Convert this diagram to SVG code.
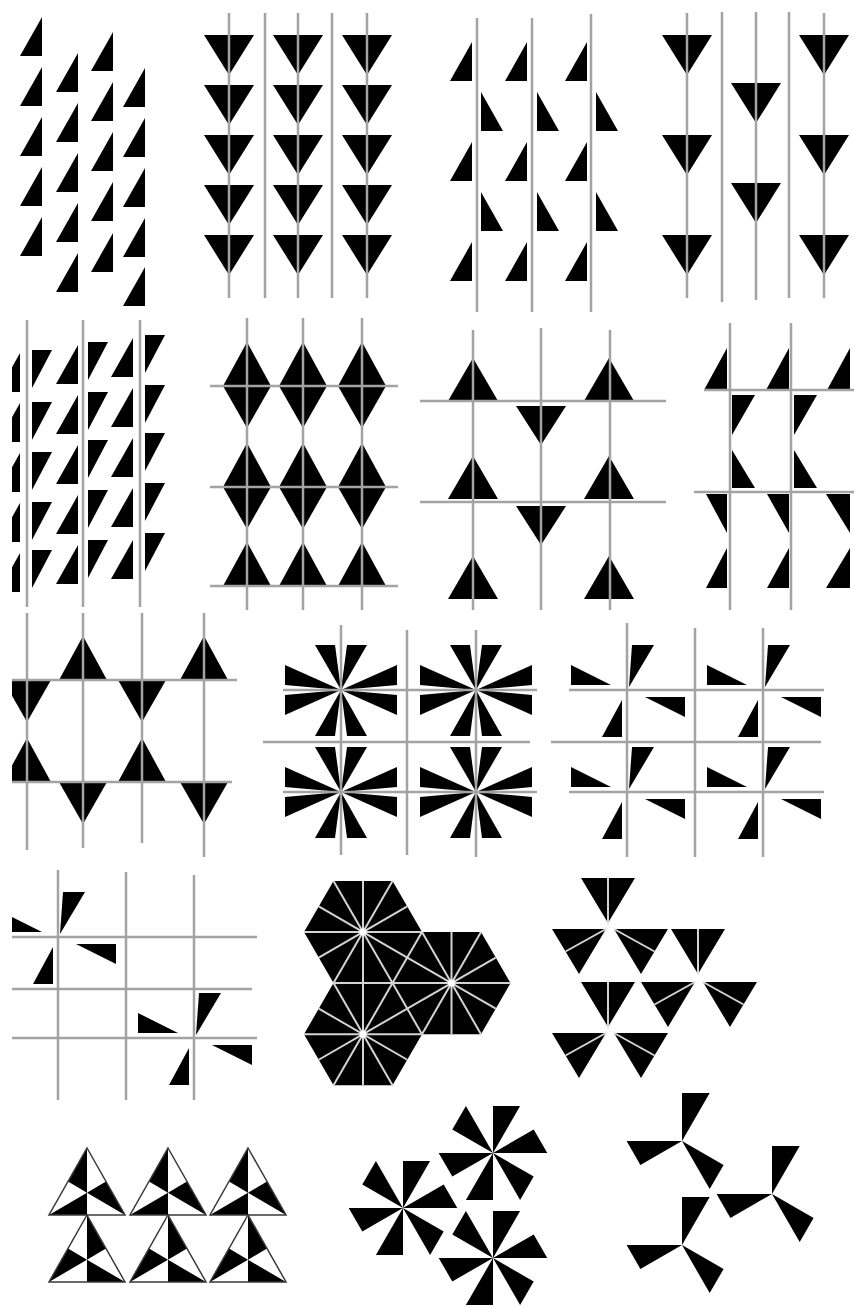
<svg xmlns="http://www.w3.org/2000/svg" xmlns:xlink="http://www.w3.org/1999/xlink" width="854" height="1307" viewBox="0 0 854 1307">
<style>
.ln{stroke:#a3a3a3;stroke-width:2.5;fill:none}
.hl{stroke:#d4d4d4;stroke-width:2;fill:none}
.ol{fill:none;stroke:#3a3a3a;stroke-width:1.5;stroke-linejoin:miter}
polygon{fill:#000}
.ol{fill:none}
</style>
<defs>
<polygon id="t1" points="0,0 0,39 -22,39"/>
<polygon id="t2" points="0,0 0,39 22,39"/>
<polygon id="t3" points="0,0 20,0 0,38"/>
<polygon id="dn" points="-25,0 25,0 0,40"/>
<polygon id="up" points="0,0 24,44 -24,44"/>
<polygon id="dn2" points="-24,0 24,0 0,42"/>
<polygon id="up7" points="0,0 25,43 -25,43"/>
<polygon id="dn7" points="-25,0 25,0 0,39"/>
<polygon id="dt" points="-27,0 27,0 0,45"/>
<g id="star">
<polygon points="-26,-45 -6,-45 0,0"/>
<polygon points="6,-45 26,-45 0,0"/>
<polygon points="-56,-25 -56,-5 0,0"/>
<polygon points="56,-25 56,-5 0,0"/>
<polygon points="-56,5 -56,25 0,0"/>
<polygon points="56,5 56,25 0,0"/>
<polygon points="-26,46 -6,46 0,0"/>
<polygon points="6,46 26,46 0,0"/>
</g>
<g id="pw4">
<polygon points="5,-45 27,-45 2,-3"/>
<polygon points="-56,-25 -56,-5 -16,-5"/>
<polygon points="18,7 58,7 58,27"/>
<polygon points="-5,10 -5,47 -25,47"/>
</g>
<g id="pw6">
<polygon points="0,0 40.7,-23.5 54.3,0"/>
<polygon points="0,0 0,-47 27.1,-47"/>
<polygon points="0,0 -40.7,-23.5 -27.1,-47"/>
<polygon points="0,0 -40.7,23.5 -54.3,0"/>
<polygon points="0,0 0,47 -27.1,47"/>
<polygon points="0,0 40.7,23.5 27.1,47"/>
</g>
<g id="pw3">
<polygon points="0,0 0,-48 27.7,-48"/>
<polygon points="0,0 -41.6,24 -55.4,0"/>
<polygon points="0,0 41.6,24 27.7,48"/>
</g>
<g id="spk">
<line x1="-59" y1="0" x2="59" y2="0"/>
<line x1="-29.5" y1="51.1" x2="29.5" y2="-51.1"/>
<line x1="-29.5" y1="-51.1" x2="29.5" y2="51.1"/>
<line x1="0" y1="-51.1" x2="0" y2="51.1"/>
<line x1="-44.25" y1="25.55" x2="44.25" y2="-25.55"/>
<line x1="-44.25" y1="-25.55" x2="44.25" y2="25.55"/>
</g>
<g id="tA">
<polygon points="0,0 0,44.7 -19,33.5"/>
<polygon points="19,33.5 0,44.7 38,67"/>
<polygon points="0,67 0,44.7 -38,67"/>
<polygon class="ol" points="0,0 38,67 -38,67"/>
</g>
<g id="tB">
<polygon points="0,0 0,44.7 19,33.5"/>
<polygon points="-19,33.5 0,44.7 -38,67"/>
<polygon points="0,67 0,44.7 38,67"/>
<polygon class="ol" points="0,0 38,67 -38,67"/>
</g>
<clipPath id="cl"><rect x="12" y="0" width="842" height="1307"/></clipPath>
<clipPath id="cr"><rect x="0" y="0" width="852" height="1307"/></clipPath>
</defs>
<rect width="854" height="1307" fill="#fff"/>

<g id="p1">
<use href="#t1" x="42" y="17"/><use href="#t1" x="42" y="67"/><use href="#t1" x="42" y="117"/><use href="#t1" x="42" y="167"/><use href="#t1" x="42" y="217"/>
<use href="#t1" x="78" y="53"/><use href="#t1" x="78" y="103"/><use href="#t1" x="78" y="153"/><use href="#t1" x="78" y="203"/><use href="#t1" x="78" y="253"/>
<use href="#t1" x="113" y="32"/><use href="#t1" x="113" y="82"/><use href="#t1" x="113" y="132"/><use href="#t1" x="113" y="182"/><use href="#t1" x="113" y="233"/>
<use href="#t1" x="145" y="68"/><use href="#t1" x="145" y="118"/><use href="#t1" x="145" y="168"/><use href="#t1" x="145" y="218"/><use href="#t1" x="145" y="267"/>
</g>

<g id="p2">
<use href="#dn" x="229" y="35"/><use href="#dn" x="229" y="85"/><use href="#dn" x="229" y="135"/><use href="#dn" x="229" y="185"/><use href="#dn" x="229" y="235"/>
<use href="#dn" x="298" y="35"/><use href="#dn" x="298" y="85"/><use href="#dn" x="298" y="135"/><use href="#dn" x="298" y="185"/><use href="#dn" x="298" y="235"/>
<use href="#dn" x="367" y="35"/><use href="#dn" x="367" y="85"/><use href="#dn" x="367" y="135"/><use href="#dn" x="367" y="185"/><use href="#dn" x="367" y="235"/>
<g class="ln"><line x1="229" y1="13" x2="229" y2="298"/><line x1="265" y1="13" x2="265" y2="298"/><line x1="298" y1="13" x2="298" y2="298"/><line x1="332" y1="13" x2="332" y2="298"/><line x1="367" y1="13" x2="367" y2="298"/></g>
</g>

<g id="p3">
<use href="#t1" x="472" y="42"/><use href="#t1" x="472" y="142"/><use href="#t1" x="472" y="242"/>
<use href="#t1" x="527" y="42"/><use href="#t1" x="527" y="142"/><use href="#t1" x="527" y="242"/>
<use href="#t1" x="587" y="42"/><use href="#t1" x="587" y="142"/><use href="#t1" x="587" y="242"/>
<use href="#t2" x="481" y="92"/><use href="#t2" x="481" y="192"/>
<use href="#t2" x="537" y="92"/><use href="#t2" x="537" y="192"/>
<use href="#t2" x="596" y="92"/><use href="#t2" x="596" y="192"/>
<g class="ln"><line x1="477" y1="18" x2="477" y2="312"/><line x1="532" y1="18" x2="532" y2="312"/><line x1="591" y1="14" x2="591" y2="312"/></g>
</g>

<g id="p4" clip-path="url(#cr)">
<use href="#dn" x="687" y="35"/><use href="#dn" x="687" y="135"/><use href="#dn" x="687" y="235"/>
<use href="#dn" x="756" y="83"/><use href="#dn" x="756" y="183"/>
<use href="#dn" x="824" y="35"/><use href="#dn" x="824" y="135"/><use href="#dn" x="824" y="235"/>
<g class="ln"><line x1="687" y1="13" x2="687" y2="298"/><line x1="722" y1="12" x2="722" y2="302"/><line x1="756" y1="12" x2="756" y2="300"/><line x1="789" y1="12" x2="789" y2="298"/><line x1="824" y1="13" x2="824" y2="298"/></g>
</g>

<g id="p5" clip-path="url(#cl)">
<use href="#t1" x="20" y="353"/><use href="#t1" x="20" y="403"/><use href="#t1" x="20" y="453"/><use href="#t1" x="20" y="503"/><use href="#t1" x="20" y="553"/>
<use href="#t3" x="32" y="350"/><use href="#t3" x="32" y="402"/><use href="#t3" x="32" y="452"/><use href="#t3" x="32" y="502"/><use href="#t3" x="32" y="550"/>
<use href="#t1" x="78" y="345"/><use href="#t1" x="78" y="395"/><use href="#t1" x="78" y="445"/><use href="#t1" x="78" y="495"/><use href="#t1" x="78" y="545"/>
<use href="#t3" x="88" y="342"/><use href="#t3" x="88" y="392"/><use href="#t3" x="88" y="440"/><use href="#t3" x="88" y="490"/><use href="#t3" x="88" y="540"/>
<use href="#t1" x="133" y="338"/><use href="#t1" x="133" y="388"/><use href="#t1" x="133" y="438"/><use href="#t1" x="133" y="488"/><use href="#t1" x="133" y="540"/>
<use href="#t3" x="145" y="335"/><use href="#t3" x="145" y="385"/><use href="#t3" x="145" y="433"/><use href="#t3" x="145" y="483"/><use href="#t3" x="145" y="533"/>
<g class="ln"><line x1="27" y1="320" x2="27" y2="607"/><line x1="83" y1="320" x2="83" y2="607"/><line x1="140" y1="320" x2="140" y2="607"/></g>
</g>

<g id="p6">
<use href="#up" x="247" y="342"/><use href="#up" x="303" y="342"/><use href="#up" x="362" y="342"/>
<use href="#dn2" x="247" y="386"/><use href="#dn2" x="303" y="386"/><use href="#dn2" x="362" y="386"/>
<use href="#up" x="247" y="443"/><use href="#up" x="303" y="443"/><use href="#up" x="362" y="443"/>
<use href="#dn2" x="247" y="487"/><use href="#dn2" x="303" y="487"/><use href="#dn2" x="362" y="487"/>
<use href="#up" x="247" y="542"/><use href="#up" x="303" y="542"/><use href="#up" x="362" y="542"/>
<g class="ln"><line x1="247" y1="318" x2="247" y2="610"/><line x1="303" y1="318" x2="303" y2="610"/><line x1="362" y1="318" x2="362" y2="610"/>
<line x1="210" y1="386" x2="398" y2="386"/><line x1="210" y1="487" x2="398" y2="487"/><line x1="210" y1="586" x2="398" y2="586"/></g>
</g>

<g id="p7">
<use href="#up7" x="473" y="358"/><use href="#up7" x="609" y="358"/>
<use href="#up7" x="473" y="456"/><use href="#up7" x="609" y="456"/>
<use href="#up7" x="473" y="556"/><use href="#up7" x="609" y="556"/>
<use href="#dn7" x="541" y="406"/><use href="#dn7" x="541" y="506"/>
<g class="ln"><line x1="473" y1="330" x2="473" y2="610"/><line x1="541" y1="328" x2="541" y2="610"/><line x1="610" y1="330" x2="610" y2="610"/>
<line x1="420" y1="401" x2="666" y2="401"/><line x1="420" y1="502" x2="666" y2="502"/></g>
</g>

<g id="p8">
<polygon points="727,348 727,390 704,390"/><polygon points="789,348 789,390 766,390"/><polygon points="850,348 850,390 827,390"/>
<polygon points="732,395 755,395 732,435"/><polygon points="794,395 817,395 794,435"/>
<polygon points="732,450 732,488 755,488"/><polygon points="794,450 794,488 817,488"/>
<polygon points="706,494 727,494 727,533"/><polygon points="767,494 789,494 789,533"/><polygon points="826,494 850,494 850,533"/>
<polygon points="727,548 727,588 706,588"/><polygon points="789,548 789,588 767,588"/><polygon points="850,548 850,588 826,588"/>
<g class="ln"><line x1="730" y1="323" x2="730" y2="610"/><line x1="791" y1="323" x2="791" y2="610"/>
<line x1="704" y1="390" x2="854" y2="390"/><line x1="694" y1="492" x2="854" y2="492"/></g>
</g>

<g id="p9" clip-path="url(#cl)">
<use href="#up" x="83" y="636"/><use href="#up" x="204" y="636"/>
<use href="#up" x="27" y="738"/><use href="#up" x="142" y="738"/>
<use href="#dn2" x="27" y="680"/><use href="#dn2" x="142" y="680"/>
<use href="#dn2" x="83" y="782"/><use href="#dn2" x="204" y="782"/>
<g class="ln"><line x1="27" y1="613" x2="27" y2="850"/><line x1="83" y1="613" x2="83" y2="848"/><line x1="142" y1="613" x2="142" y2="843"/><line x1="204" y1="613" x2="204" y2="857"/>
<line x1="12" y1="680" x2="237" y2="680"/><line x1="12" y1="782" x2="232" y2="782"/></g>
</g>

<g id="p10">
<use href="#star" x="341" y="690"/><use href="#star" x="476" y="690"/>
<use href="#star" x="341" y="792"/><use href="#star" x="476" y="792"/>
<g class="ln"><line x1="341" y1="625" x2="341" y2="855"/><line x1="407" y1="630" x2="407" y2="855"/><line x1="476" y1="630" x2="476" y2="857"/>
<line x1="283" y1="690" x2="537" y2="690"/><line x1="263" y1="742" x2="530" y2="742"/><line x1="283" y1="792" x2="537" y2="792"/></g>
</g>

<g id="p11">
<use href="#pw4" x="627" y="690"/><use href="#pw4" x="763" y="690"/>
<use href="#pw4" x="627" y="792"/><use href="#pw4" x="763" y="792"/>
<g class="ln"><line x1="627" y1="623" x2="627" y2="857"/><line x1="695" y1="628" x2="695" y2="857"/><line x1="763" y1="628" x2="763" y2="857"/>
<line x1="569" y1="690" x2="824" y2="690"/><line x1="551" y1="742" x2="821" y2="742"/><line x1="569" y1="792" x2="824" y2="792"/></g>
</g>

<g id="p12" clip-path="url(#cl)">
<use href="#pw4" x="58" y="937"/><use href="#pw4" x="194" y="1038"/>
<g class="ln"><line x1="58" y1="870" x2="58" y2="1100"/><line x1="126" y1="872" x2="126" y2="1100"/><line x1="194" y1="875" x2="194" y2="1100"/>
<line x1="12" y1="937" x2="257" y2="937"/><line x1="12" y1="989" x2="252" y2="989"/><line x1="12" y1="1038" x2="257" y2="1038"/></g>
</g>

<g id="p13">
<polygon points="422,932 392.5,983.1 333.5,983.1 304,932 333.5,880.9 392.5,880.9"/>
<polygon points="422,1034.2 392.5,1085.3 333.5,1085.3 304,1034.2 333.5,983.1 392.5,983.1"/>
<polygon points="510.5,983.1 481,1034.2 422,1034.2 392.5,983.1 422,932 481,932"/>
<g class="hl">
<use href="#spk" x="363" y="932"/><use href="#spk" x="363" y="1034.2"/><use href="#spk" x="451.5" y="983.1"/>
<line x1="392.5" y1="983.1" x2="422" y2="932"/><line x1="392.5" y1="983.1" x2="422" y2="1034.2"/><line x1="333.5" y1="983.1" x2="392.5" y2="983.1"/>
</g>
<circle cx="363" cy="932" r="3.5" fill="#fff"/><circle cx="363" cy="1034.2" r="3.5" fill="#fff"/><circle cx="451.5" cy="983.1" r="3.5" fill="#fff"/>
</g>

<g id="p14">
<use href="#dt" x="608" y="878"/>
<use href="#dt" x="579" y="929"/><use href="#dt" x="641" y="929"/><use href="#dt" x="698" y="929"/>
<use href="#dt" x="608" y="982"/><use href="#dt" x="668" y="982"/><use href="#dt" x="730" y="982"/>
<use href="#dt" x="579" y="1033"/><use href="#dt" x="641" y="1033"/>
<g class="hl">
<line x1="608" y1="878" x2="608" y2="923"/>
<line x1="606" y1="929" x2="565.5" y2="951.5"/>
<line x1="614" y1="929" x2="654.5" y2="951.5"/>
<line x1="698" y1="929" x2="698" y2="974"/>
<line x1="608" y1="982" x2="608" y2="1027"/>
<line x1="695" y1="982" x2="654.5" y2="1004.5"/>
<line x1="703" y1="982" x2="743.5" y2="1004.5"/>
<line x1="606" y1="1033" x2="565.5" y2="1055.5"/>
<line x1="614" y1="1033" x2="654.5" y2="1055.5"/>
</g>
</g>

<g id="p15">
<use href="#tA" x="87" y="1148"/><use href="#tA" x="168" y="1148"/><use href="#tA" x="248" y="1148"/>
<use href="#tB" x="87" y="1215"/><use href="#tB" x="168" y="1215"/><use href="#tB" x="248" y="1215"/>
</g>

<g id="p16">
<use href="#pw6" x="493" y="1153"/><use href="#pw6" x="403" y="1208"/><use href="#pw6" x="493" y="1258"/>
</g>

<g id="p17">
<use href="#pw3" x="682" y="1141"/><use href="#pw3" x="772" y="1194"/><use href="#pw3" x="682" y="1245"/>
</g>
</svg>
